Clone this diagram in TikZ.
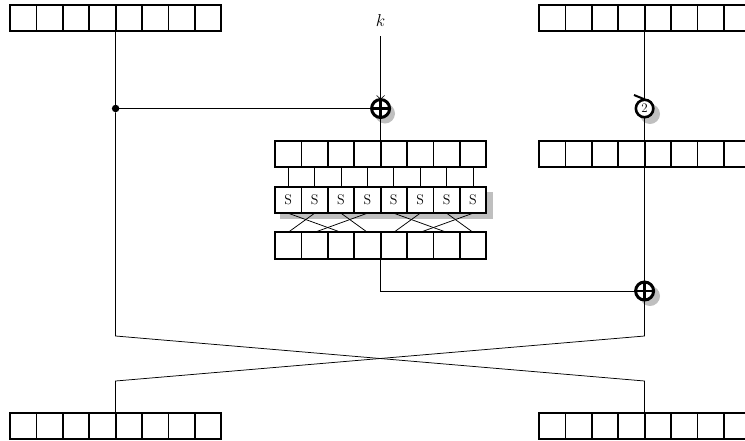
\documentclass[tikz,border=0pt]{standalone}
\usetikzlibrary{arrows.meta}
\definecolor{shadowgray}{gray}{0.75}
\tikzset{
  cellbox/.style={draw=black,fill=white,line width=1.8pt,minimum width=26.4pt,minimum height=26.4pt,inner sep=0pt,outer sep=0pt},
  xorgate/.style={circle,draw=black,fill=white,line width=3pt,minimum size=18pt,inner sep=0pt,outer sep=0pt},
  rotgate/.style={circle,draw=black,fill=white,line width=2.6pt,minimum size=17.5pt,inner sep=0pt,outer sep=0pt,font=\fontsize{13}{13}\selectfont},
  wire/.style={line width=0.75pt,black},
  crossbar/.style={line width=2.4pt,black},
  shadowdisc/.style={fill=shadowgray,draw=none},
  junction/.style={circle,fill=black,minimum size=7.5pt,inner sep=0pt,outer sep=0pt},
  slabel/.style={font=\fontsize{14}{14}\selectfont}
}
\newcommand{\regrow}[3]{% prefix, left x, centre y
  \foreach \i in {1,...,8}{
    \node[cellbox] (#1\i) at ({#2+13.2+26.4*(\i-1)},#3) {};
  }
  \coordinate (#1m) at ({#2+105.6},#3);
}
\begin{document}
\begin{tikzpicture}[x=1pt,y=-1pt]
\useasboundingbox (0,0) rectangle (745,440);
\clip (0,0) rectangle (745,440);
% shadows
\fill[shadowgray] (279.5,191.5) rectangle (493,219);
\fill[shadowdisc] (385,113.5) circle (10pt);
\fill[shadowdisc] (650,114) circle (10pt);
\fill[shadowdisc] (650,296) circle (10pt);
% named anchors
\coordinate (cross1) at (115.6,336);
\coordinate (cross2) at (644.6,336);
\coordinate (cross3) at (115.6,381);
\coordinate (cross4) at (644.6,381);
\node[junction] (dot) at (115.6,108.5) {};
\node (key) at (380.6,20.5) {\fontsize{18}{18}\selectfont$k$};
\coordinate (keyend) at (380.6,36);
% registers
\regrow{tl}{10}{18}
\regrow{tr}{539}{18}
\regrow{bl}{10}{426}
\regrow{br}{539}{426}
\regrow{ra}{275}{154}
\regrow{rc}{275}{245.5}
\regrow{rr}{539}{154}
\foreach \i in {1,...,8}{
  \node[cellbox,slabel] (sb\i) at ({275+13.2+26.4*(\i-1)},200) {S};
  \draw[wire] (ra\i.south) -- (sb\i.north);
}
\foreach \a/\b in {1/3,2/1,3/4,4/2,5/7,6/5,7/8,8/6}{
  \draw[wire] (sb\a.south) -- (rc\b.north);
}
% connectors
\draw[wire] (tlm |- tl1.south) -- (dot);
\draw[wire] (dot) -- (cross1) -- (cross4) -- (brm |- br1.north);
\draw[wire] (dot) -- (380.6,108.5) coordinate (x1c);
\draw[wire] (keyend) -- (x1c);
\draw[wire] (x1c) -- (ram |- ra1.north);
\draw[wire] (rcm |- rc1.south) |- (644.6,291) coordinate (x2c);
\draw[wire] (trm |- tr1.south) -- (rrm |- rr1.north);
\draw[wire] (rrm |- rr1.south) -- (x2c);
\draw[wire] (x2c) -- (cross2) -- (cross3) -- (blm |- bl1.north);
% gates
\node[xorgate] (x1) at (x1c) {};
\draw[crossbar] (x1.north) -- (x1.south) (x1.west) -- (x1.east);
\node[xorgate] (x2) at (x2c) {};
\draw[crossbar] (x2.north) -- (x2.south) (x2.west) -- (x2.east);
\node[rotgate] (rot) at (644.6,108.5) {2};
\draw[line width=0.6pt] (376.6,95.5) -- (380.6,99) -- (384.6,95.5);
\draw[line width=2pt] (634,95) -- (645,99.5);
\end{tikzpicture}
\end{document}
